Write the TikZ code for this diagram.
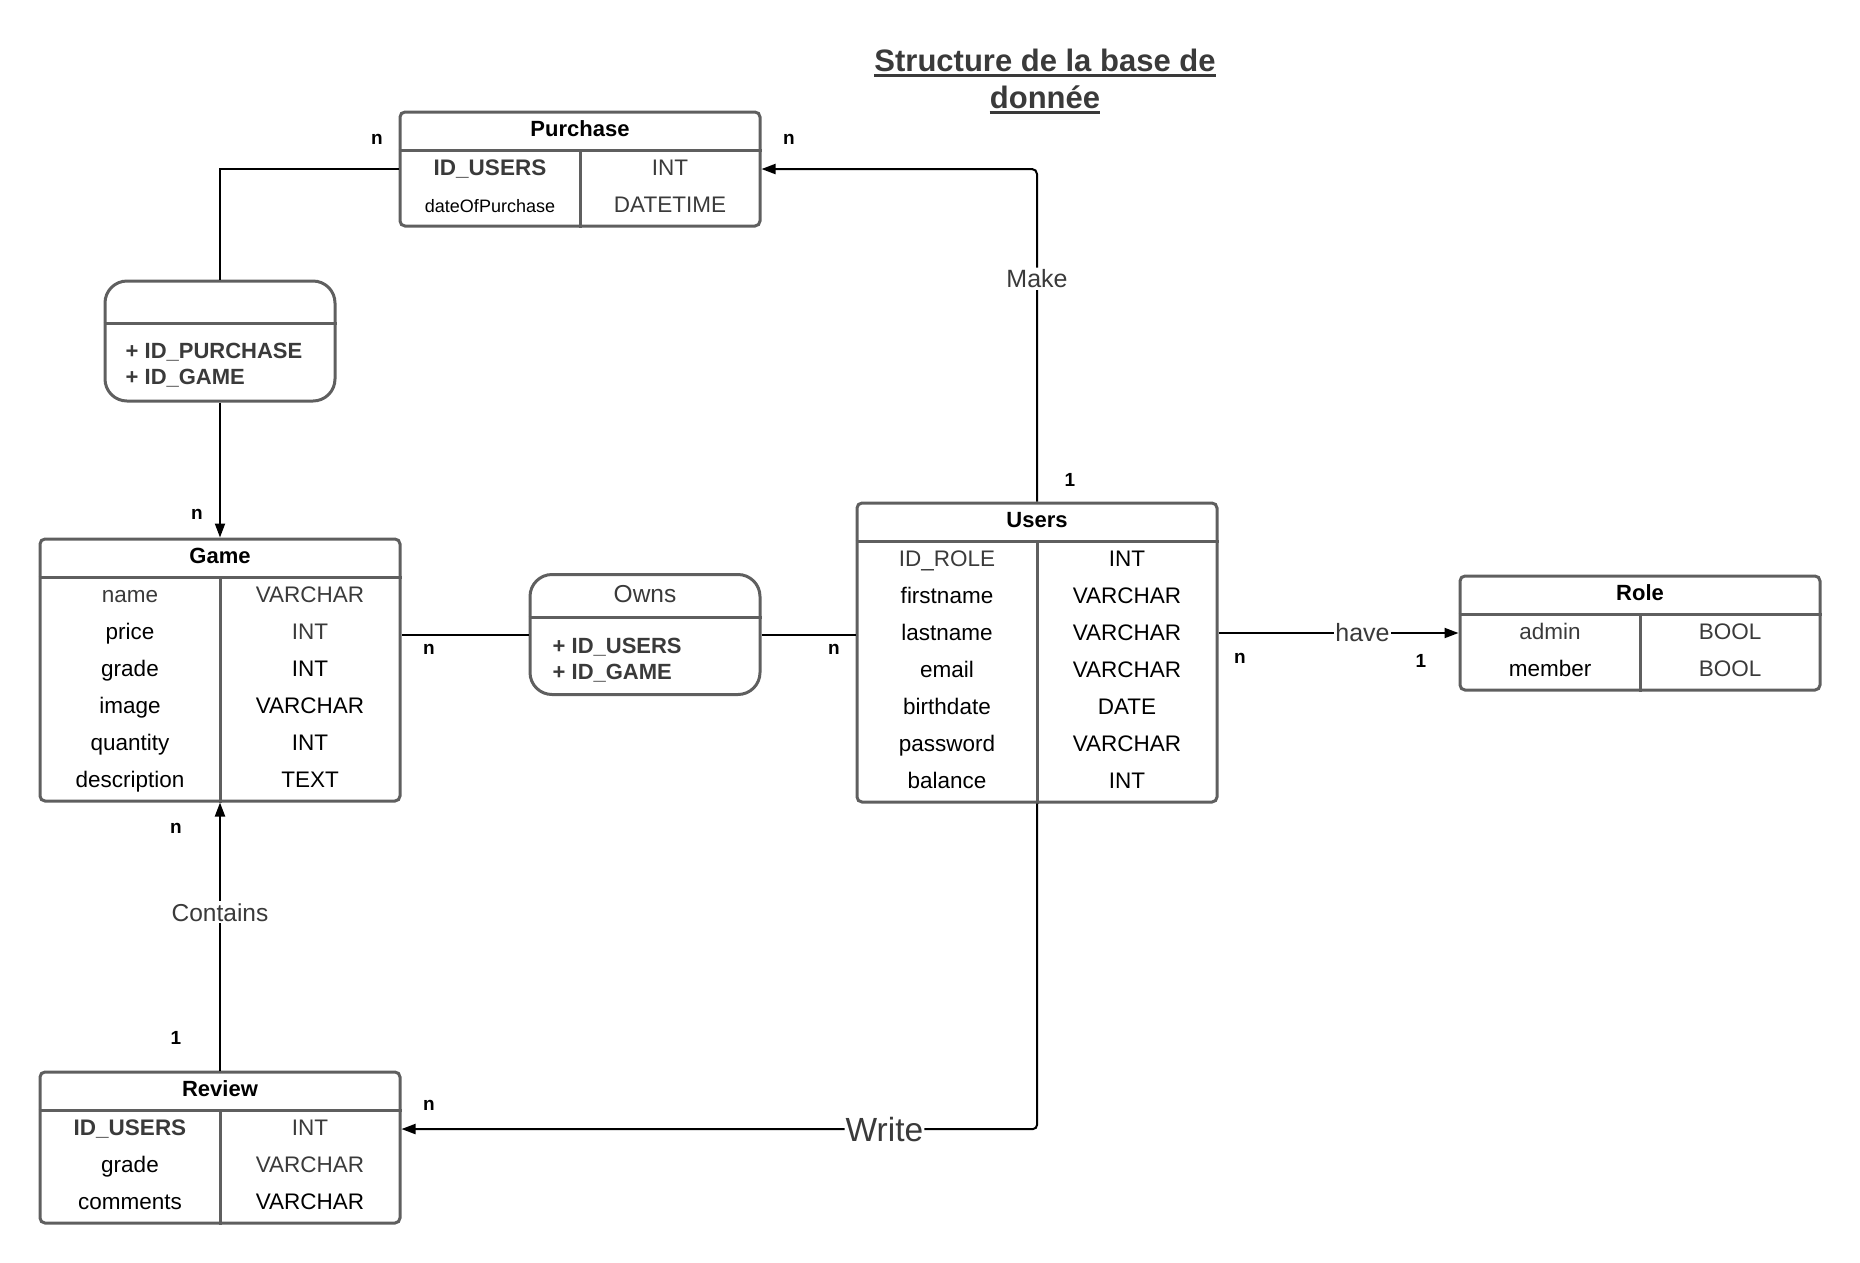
\documentclass[tikz,border=0pt]{standalone}
\usepackage{fontspec}
\setmainfont{Liberation Sans}
\usetikzlibrary{calc, arrows.meta, positioning}

\definecolor{boxgray}{HTML}{5F5F5F}
\definecolor{textgray}{HTML}{3A3A3A}

\tikzset{
  tablebox/.style={draw=boxgray, line width=3pt, rounded corners=5pt, minimum width=360pt, inner sep=0pt},
  tableline/.style={draw=boxgray, line width=3pt},
  tabletitle/.style={font=\fontsize{22}{26}\selectfont\bfseries, inner sep=0pt, anchor=base},
  fieldtext/.style={inner sep=0pt, anchor=base},
  assocbox/.style={draw=boxgray, line width=3pt, rounded corners=22pt, minimum width=230pt, minimum height=120pt, inner sep=0pt},
  assockeys/.style={font=\fontsize{22}{26}\selectfont\bfseries, text=textgray, align=left, inner sep=0pt, anchor=west},
  link/.style={draw=black, line width=2pt},
  linktext/.style={fill=white, text=textgray, inner sep=2pt, font=\fontsize{25}{29}\selectfont},
  card/.style={font=\fontsize{19}{21}\selectfont\bfseries, inner sep=0pt},
  heading/.style={font=\fontsize{31}{37}\selectfont\bfseries, text=textgray, inner sep=0pt, anchor=base},
  headrule/.style={draw=textgray, line width=3pt},
}

% table: name, centre x, top y, title, number of rows, rows
\newcommand{\dbtable}[6]{%
  \pgfmathsetmacro{\tabh}{40+37*#5}
  \node[tablebox, minimum height=\tabh pt] (#1) at (#2,{#3+20+18.5*#5}) {};
  \node[tabletitle] (#1-title) at (#2,{#3+24.5}) {#4};
  \draw[tableline] ($(#1.north west)+(0,40)$) -- ($(#1.north east)+(0,40)$);
  \draw[tableline] (#2,{#3+40}) -- (#1.south);
  \foreach \fld/\typ [count=\i] in {#6} {
    \node[fieldtext] (#1-\i) at ({#2-90},{#3+40+37*\i-13.5}) {\fld};
    \node[fieldtext] (#1-\i-type) at ({#2+90},{#3+40+37*\i-13.5}) {\typ};
  }
}

\begin{document}
\begin{tikzpicture}[x=1pt, y=-1pt, >={Triangle[length=14pt, width=10pt]},
  font=\fontsize{22.5}{26}\selectfont]
\useasboundingbox (0,0) rectangle (1860,1262);

% title
\node (heading1) [heading] at (1045,71) {Structure de la base de};
\node (heading2) [heading] at (1045,108) {donnée};
\draw[headrule] ($(heading1.base west)+(0,4)$) -- ($(heading1.base east)+(0,4)$);
\draw[headrule] ($(heading2.base west)+(0,4)$) -- ($(heading2.base east)+(0,4)$);

% tables
\dbtable{purchase}{580}{112}{Purchase}{2}{%
  {\color{textgray}\textbf{ID\_USERS}}/{\color{textgray}INT},
  {\fontsize{18}{21}\selectfont dateOfPurchase}/{\color{textgray}DATETIME}}
\dbtable{game}{220}{539}{Game}{6}{%
  {\color{textgray}name}/{\color{textgray}VARCHAR},
  price/{\color{textgray}INT},
  grade/INT, image/VARCHAR, quantity/INT, description/TEXT}
\dbtable{users}{1037}{503}{Users}{7}{%
  {\color{textgray}ID\_ROLE}/INT,
  firstname/VARCHAR, lastname/VARCHAR, email/VARCHAR,
  birthdate/DATE, password/VARCHAR, balance/INT}
\dbtable{role}{1640}{576}{Role}{2}{%
  {\color{textgray}admin}/{\color{textgray}BOOL},
  member/{\color{textgray}BOOL}}
\dbtable{review}{220}{1072}{Review}{3}{%
  {\color{textgray}\textbf{ID\_USERS}}/{\color{textgray}INT},
  grade/{\color{textgray}VARCHAR},
  comments/VARCHAR}

% association boxes
\node (buy) [assocbox] at (220,341) {};
\draw[tableline] ($(buy.north west)+(0,44)$) -- ($(buy.north east)+(0,44)$);
\node (buy-keys) [assockeys] at ($(buy.north west)+(22,86)$) {+ ID\_PURCHASE\\+ ID\_GAME};

\node (owns) [assocbox] at (645,634.5) {};
\draw[tableline] ($(owns.north west)+(0,44)$) -- ($(owns.north east)+(0,44)$);
\node (owns-title) [text=textgray, font=\fontsize{24.5}{28}\selectfont] at ($(owns.north)+(0,21)$) {Owns};
\node (owns-keys) [assockeys] at ($(owns.north west)+(24,87)$) {+ ID\_USERS\\+ ID\_GAME};

% links
\draw[link] (purchase-1 -| purchase.west) -| (buy.north);
\draw[link, ->] (buy.south) -- (game.north);
\draw[link] (owns.west) -- (owns.west -| game.east);
\draw[link] (owns.east) -- (owns.east -| users.west);
\draw[link, ->, rounded corners=5pt] (users.north) |- node[linktext, pos=0.335] {Make} (purchase-1 -| purchase.east);
\draw[link, ->] (role.west -| users.east) -- node[linktext, pos=0.6, inner sep=1pt] {have} (role.west);
\draw[link, ->, rounded corners=4pt] (users.south) |- node[linktext, pos=0.62, inner sep=1pt, font=\fontsize{33.5}{36}\selectfont] {Write} (review-1 -| review.east);
\draw[link, ->] (review.north) -- node[linktext, pos=0.59, font=\fontsize{24.5}{28}\selectfont] {Contains} (game.south);

% cardinalities
\node (c1) [card] at (377,139) {n};
\node (c2) [card] at (789,139) {n};
\node (c3) [card] at (197,514) {n};
\node (c4) [card] at (429,649) {n};
\node (c5) [card] at (834,649) {n};
\node (c6) [card] at (1070,480) {1};
\node (c7) [card] at (1240,658) {n};
\node (c8) [card] at (1421,661) {1};
\node (c9) [card] at (176,828) {n};
\node (c10) [card] at (176,1038) {1};
\node (c11) [card] at (429,1105) {n};
\end{tikzpicture}
\end{document}
